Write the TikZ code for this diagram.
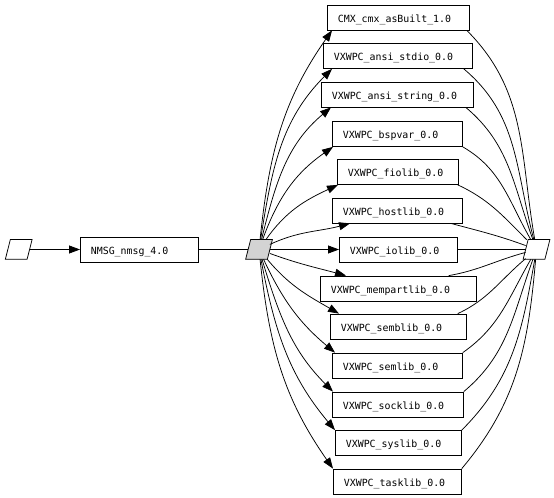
\documentclass[tikz,border=0pt]{standalone}
\usepackage{fontspec}
\newfontfamily\boxmono{DejaVu Sans Mono}
\usetikzlibrary{arrows.meta}
\definecolor{paragray}{RGB}{211,211,211}
\tikzset{
  box/.style={draw, rectangle, anchor=west, minimum height=25bp, inner xsep=10.5bp, inner ysep=0pt, text height=10bp, text depth=0pt, align=left, font=\boxmono\fontsize{9.9bp}{12bp}\selectfont},
  para/.style={rectangle, minimum width=21bp, minimum height=19bp, inner sep=0pt},
  paraline/.style={draw, line join=miter},
  arr/.style={-{Triangle[length=11bp,width=8bp]}}
}
\begin{document}
\begin{tikzpicture}[x=1bp,y=1bp,line width=0.75bp]
\useasboundingbox (0,0) rectangle (554,498);
% parallelograms
\node[para] (L) at (18.7,248.5) {};
\node[para] (G) at (259,248.5) {};
\node[para] (R) at (536.5,248.5) {};
\draw[paraline] ([xshift=-2.5bp]L.south west) -- ([xshift=2.5bp]L.north west) -- ([xshift=2.5bp]L.north east) -- ([xshift=-2.5bp]L.south east) -- cycle;
\draw[paraline, fill=paragray] ([xshift=-2.5bp]G.south west) -- ([xshift=2.5bp]G.north west) -- ([xshift=2.5bp]G.north east) -- ([xshift=-2.5bp]G.south east) -- cycle;
\draw[paraline] ([xshift=-2.5bp]R.south west) -- ([xshift=2.5bp]R.north west) -- ([xshift=2.5bp]R.north east) -- ([xshift=-2.5bp]R.south east) -- cycle;
\node[box, text width=97bp] (N) at (80,248.5) {NMSG\_nmsg\_4.0};
% library boxes
\node[box, text width=121bp] (b1) at (327,480.5) {CMX\_cmx\_asBuilt\_1.0};
\node[box, text width=128bp] (b2) at (323,442) {VXWPC\_ansi\_stdio\_0.0};
\node[box, text width=131bp] (b3) at (321,403.5) {VXWPC\_ansi\_string\_0.0};
\node[box, text width=109bp] (b4) at (332,364) {VXWPC\_bspvar\_0.0};
\node[box, text width=100bp] (b5) at (337,326) {VXWPC\_fiolib\_0.0};
\node[box, text width=109bp] (b6) at (332,287.5) {VXWPC\_hostlib\_0.0};
\node[box, text width=97bp] (b7) at (339,248.5) {VXWPC\_iolib\_0.0};
\node[box, text width=135bp] (b8) at (320,209.5) {VXWPC\_mempartlib\_0.0};
\node[box, text width=115bp] (b9) at (330,171.5) {VXWPC\_semblib\_0.0};
\node[box, text width=109bp] (b10) at (332,132.5) {VXWPC\_semlib\_0.0};
\node[box, text width=110bp] (b11) at (332,93.5) {VXWPC\_socklib\_0.0};
\node[box, text width=105bp] (b12) at (335,55) {VXWPC\_syslib\_0.0};
\node[box, text width=107bp] (b13) at (333,16.5) {VXWPC\_tasklib\_0.0};
% main chain
\draw[arr] (L) -- (N);
\draw (N) -- (G);
% fan out
\draw[arr] (G) to[out=84,in=235] ([xshift=5bp]b1.south west);
\draw[arr] (G) to[out=81,in=225] ([xshift=9bp]b2.south west);
\draw[arr] (G) to[out=76,in=220] ([xshift=10bp]b3.south west);
\draw[arr] (G) to[out=70,in=215] ([xshift=1bp]b4.south west);
\draw[arr] (G) to[out=55,in=205] ([xshift=1bp]b5.south west);
\draw[arr] (G) to[out=25,in=195] ([xshift=18bp]b6.south west);
\draw[arr] (G) -- (b7.west);
\draw[arr] (G) to[out=-20,in=165] ([xshift=26bp]b8.north west);
\draw[arr] (G) to[out=-50,in=150] ([xshift=9bp]b9.north west);
\draw[arr] (G) to[out=-65,in=140] ([xshift=3bp]b10.north west);
\draw[arr] (G) to[out=-73,in=135] ([xshift=1bp]b11.north west);
\draw[arr] (G) to[out=-79,in=130] (b12.north west);
\draw[arr] (G) to[out=-84,in=125] (b13.north west);
% fan in
\draw ([xshift=-3bp]b1.south east) to[out=-45,in=100] (R);
\draw ([xshift=-9bp]b2.south east) to[out=-40,in=105] (R);
\draw ([xshift=-8bp]b3.south east) to[out=-40,in=110] (R);
\draw (b4.south east) to[out=-30,in=120] (R);
\draw ([xshift=-1bp]b5.south east) to[out=-25,in=135] (R);
\draw ([xshift=-12bp]b6.south east) to[out=-15,in=160] (R);
\draw (b7.east) -- (R);
\draw ([xshift=-28bp]b8.north east) to[out=10,in=-165] (R);
\draw ([xshift=-9bp]b9.north east) to[out=25,in=-140] (R);
\draw (b10.north east) to[out=35,in=-120] (R);
\draw (b11.north east) to[out=40,in=-110] (R);
\draw (b12.north east) to[out=45,in=-100] (R);
\draw (b13.north east) to[out=50,in=-95] (R);
\end{tikzpicture}
\end{document}
